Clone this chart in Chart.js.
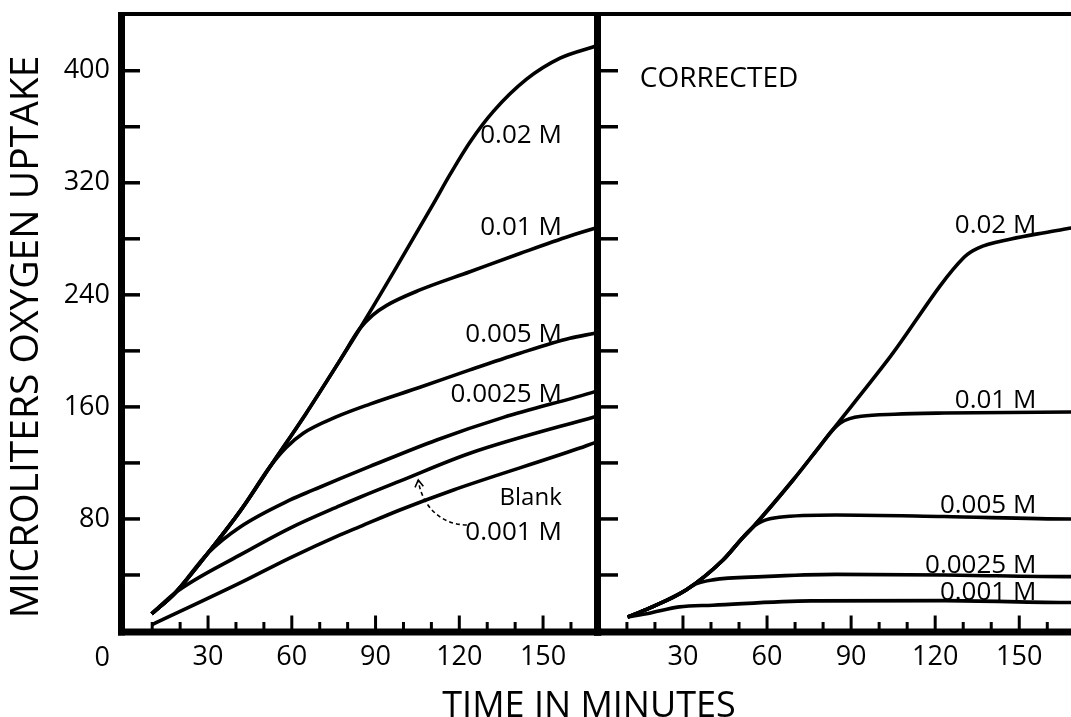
<!DOCTYPE html>
<html>
<head>
<meta charset="utf-8">
<script src="https://cdn.jsdelivr.net/npm/chart.js@4.4.1/dist/chart.umd.min.js"></script>
<style>
  html, body { margin: 0; padding: 0; background: #fff; overflow: hidden; width: 1071px; height: 717px; }
  canvas { position: absolute; left: 0; top: 0; }
</style>
</head>
<body>
<canvas id="leftPanel" width="1071" height="717"></canvas>
<canvas id="rightPanel" width="1100" height="717"></canvas>
<script>
// ---------------- data ----------------
const xTickValues = [10, 20, 30, 40, 50, 60, 70, 80, 90, 100, 110, 120, 130, 140, 150, 160];
const xLabelValues = [30, 60, 90, 120, 150];
const yTickValues = [40, 80, 120, 160, 200, 240, 280, 320, 360, 400];
const yLabelValues = [80, 160, 240, 320, 400];
const seriesNames = ['0.02 M', '0.01 M', '0.005 M', '0.0025 M', '0.001 M', 'Blank'];

// Left panel (observed), time in minutes / microliters O2
const leftTime02   = [9.8, 18.2, 30, 42, 52.2, 65, 77.3, 84.4, 96.4, 110.7, 116.7, 123.8, 132.2, 144.1, 156.1, 167.9, 169.5];
const leftUptake02 = [12.2, 27.2, 55.7, 87, 117.3, 155, 193.4, 216, 256, 305, 326, 349, 371, 394, 409, 417, 418];

const leftTime01   = [9.8, 18.2, 30, 42, 52.2, 65, 77.3, 84.4, 89, 94, 105.9, 123.8, 141.7, 159.6, 168.6, 169.5];
const leftUptake01 = [12.2, 27.2, 55.7, 87, 117.3, 155, 193.4, 216, 225.5, 232.5, 243.5, 256.5, 269.5, 282, 287.5, 288];

const leftTime005   = [9.8, 18.2, 30, 42, 52.2, 58, 64.1, 76.1, 88, 105.9, 123.8, 141.7, 159.6, 168.6, 169.5];
const leftUptake005 = [12.2, 27.2, 55.7, 87, 117.3, 131, 141.2, 153, 162, 174, 186.4, 198.3, 209, 212.6, 213];

const leftTime0025   = [9.8, 18.2, 30, 41.5, 59.4, 67.7, 77.3, 88, 111.9, 135.8, 168.6, 169.5];
const leftUptake0025 = [12.2, 27.2, 55.7, 74.3, 93.6, 100.7, 108.8, 117.5, 136.4, 152.5, 170.9, 171.5];

const leftTime001   = [9.8, 18.2, 41.5, 59.4, 77.3, 84.4, 98.7, 123.8, 168.6, 169.5];
const leftUptake001 = [12.2, 27.2, 54.3, 73.5, 89.5, 95.5, 107, 126.9, 153, 153.5];

const leftTimeBlank   = [9.8, 41.5, 59.4, 77.3, 84.4, 98.7, 117.9, 163.2, 168.6, 169.5];
const leftUptakeBlank = [4.4, 34.3, 52.2, 68.6, 74.5, 86.4, 100.7, 130.6, 134.5, 135];

// Right panel (corrected)
const rightTime02   = [10.25, 18, 31.1, 44.3, 51.3, 55, 69.3, 79, 82.9, 103.1, 130.4, 135.3, 147.1, 159, 168.6, 170];
const rightUptake02 = [10, 16.3, 29.3, 50.7, 66.6, 74.3, 107.8, 132.4, 142.3, 193.5, 267, 273.4, 279.8, 284.4, 287.7, 288.2];

const rightTime01   = [10.25, 18, 31.1, 44.3, 51.3, 55, 69.3, 79, 82.9, 86.4, 89.5, 93.6, 105.5, 123.2, 168.6, 170];
const rightUptake01 = [10, 16.3, 29.3, 50.7, 66.6, 74.3, 107.8, 132.4, 142.3, 148.8, 151.6, 153.3, 154.8, 155.6, 156.3, 156.3];

const rightTime005   = [10.25, 18, 31.1, 44.3, 51.3, 55.5, 58.4, 64.3, 84.6, 123.2, 168.6, 170];
const rightUptake005 = [10, 16.3, 29.3, 50.7, 66.6, 75, 78.5, 81.2, 82.8, 81.7, 80, 80];

const rightTime0025   = [10.25, 18, 31.1, 34.6, 40.6, 58.5, 84.6, 123.3, 168.6, 170];
const rightUptake0025 = [10, 16.3, 29.3, 33.6, 36.5, 38.8, 40.4, 40, 38.8, 38.8];

const rightTime001   = [10.25, 18, 28.7, 40.6, 75.7, 123.3, 168.6, 170];
const rightUptake001 = [10, 12.7, 17.2, 18.4, 21.5, 21.7, 20.3, 20.3];

// ---------------- annotations (data coordinates) ----------------
const leftLabels = [
  { text: '0.02 M',   t: 156.7, v: 348.4, size: 26 },
  { text: '0.01 M',   t: 156.7, v: 282.7, size: 26 },
  { text: '0.005 M',  t: 156.7, v: 206.6, size: 26 },
  { text: '0.0025 M', t: 156.7, v: 163.7, size: 26 },
  { text: 'Blank',    t: 156.7, v: 90,    size: 24 },
  { text: '0.001 M',  t: 156.7, v: 65,    size: 26 }
];
const rightLabels = [
  { text: '0.02 M',   t: 156.1, v: 284.2, size: 26 },
  { text: '0.01 M',   t: 156.1, v: 159.3, size: 26 },
  { text: '0.005 M',  t: 156.1, v: 84.3,  size: 26 },
  { text: '0.0025 M', t: 156.1, v: 41.5,  size: 26 },
  { text: '0.001 M',  t: 156.1, v: 22.2,  size: 26 }
];
const cornerNote = { text: 'CORRECTED', t: 14.6, v: 388.4, size: 28 };
const arrowPath = { start: [122.7, 75.7], c1: [113, 76], c2: [106.5, 90], end: [105.3, 107.8] };

const FONT = "'Open Sans', 'DejaVu Sans', sans-serif";
const INK = '#000';

function pairs(ts, vs) { return ts.map((t, i) => ({ x: t, y: vs[i] })); }
function lineSet(label, ts, vs) {
  return {
    label, data: pairs(ts, vs), borderColor: INK, borderWidth: 3.6,
    pointRadius: 0, fill: false, cubicInterpolationMode: 'monotone', tension: 0.4
  };
}

const decor = {
  id: 'decor',
  afterDraw(chart, args, opts) {
    const ctx = chart.ctx, a = chart.chartArea;
    const xs = chart.scales.x, ys = chart.scales.y;
    const axisY = a.bottom + 1;
    ctx.save();
    ctx.strokeStyle = INK; ctx.fillStyle = INK; ctx.lineCap = 'butt';
    // top line
    ctx.lineWidth = 4;
    ctx.beginPath(); ctx.moveTo(a.left - 3.5, a.top); ctx.lineTo(a.right + 4, a.top); ctx.stroke();
    // bottom axis
    ctx.lineWidth = 7;
    ctx.beginPath(); ctx.moveTo(a.left - 3.5, axisY); ctx.lineTo(a.right + 4, axisY); ctx.stroke();
    // left axis line (left axis / divider)
    ctx.beginPath(); ctx.moveTo(a.left, a.top - 2); ctx.lineTo(a.left, axisY + 3.5); ctx.stroke();
    if (opts.side === 'left') {
      ctx.beginPath(); ctx.moveTo(a.right, a.top - 2); ctx.lineTo(a.right, axisY + 3.5); ctx.stroke();
    }
    // inward ticks on y
    ctx.lineWidth = 3.5;
    const yLen = opts.side === 'left' ? 18.5 : 20.5;
    yTickValues.forEach(v => {
      const y = ys.getPixelForValue(v);
      ctx.beginPath(); ctx.moveTo(a.left, y); ctx.lineTo(a.left + yLen, y); ctx.stroke();
    });
    // inward ticks on x
    ctx.lineWidth = 3;
    xTickValues.forEach(v => {
      const x = xs.getPixelForValue(v);
      if (x > a.right) return;
      const len = (v % 30 === 0) ? 16.5 : 10;
      ctx.beginPath(); ctx.moveTo(x, axisY); ctx.lineTo(x, axisY - len); ctx.stroke();
    });
    // curve labels
    ctx.textAlign = 'right'; ctx.textBaseline = 'alphabetic';
    const labels = opts.side === 'left' ? leftLabels : rightLabels;
    labels.forEach(l => {
      ctx.font = l.size + 'px ' + FONT;
      ctx.fillText(l.text, xs.getPixelForValue(l.t), ys.getPixelForValue(l.v));
    });
    if (opts.side === 'right') {
      ctx.textAlign = 'left';
      ctx.font = cornerNote.size + 'px ' + FONT;
      ctx.fillText(cornerNote.text, xs.getPixelForValue(cornerNote.t), ys.getPixelForValue(cornerNote.v));
    }
    if (opts.side === 'left') {
      // dashed pointer for 0.001 M
      const P = p => [xs.getPixelForValue(p[0]), ys.getPixelForValue(p[1])];
      const s = P(arrowPath.start), c1 = P(arrowPath.c1), c2 = P(arrowPath.c2), e = P(arrowPath.end);
      ctx.lineWidth = 1.6; ctx.setLineDash([4, 3]);
      ctx.beginPath(); ctx.moveTo(s[0], s[1]); ctx.bezierCurveTo(c1[0], c1[1], c2[0], c2[1], e[0], e[1]); ctx.stroke();
      ctx.setLineDash([]);
      const ang = Math.atan2(e[1] - c2[1], e[0] - c2[0]);
      const hl = 8;
      ctx.beginPath();
      ctx.moveTo(e[0] - hl * Math.cos(ang - 0.55), e[1] - hl * Math.sin(ang - 0.55));
      ctx.lineTo(e[0], e[1]);
      ctx.lineTo(e[0] - hl * Math.cos(ang + 0.55), e[1] - hl * Math.sin(ang + 0.55));
      ctx.stroke();
      // origin label
      ctx.font = '27px ' + FONT; ctx.textAlign = 'center'; ctx.textBaseline = 'middle';
      ctx.fillText('0', xs.getPixelForValue(0) - 22, a.bottom + 27.5);
      // axis titles
      ctx.font = '39px ' + FONT;
      ctx.save();
      ctx.translate(27, 337); ctx.rotate(-Math.PI / 2);
      ctx.textAlign = 'center'; ctx.textBaseline = 'middle';
      ctx.fillText('MICROLITERS OXYGEN UPTAKE', 0, 0);
      ctx.restore();
      ctx.font = '36px ' + FONT; ctx.textAlign = 'center'; ctx.textBaseline = 'alphabetic';
      ctx.fillText('TIME IN MINUTES', 589, 716.5);
    }
    ctx.restore();
  }
};

function buildOptions(side) {
  const isLeft = side === 'left';
  return {
    responsive: false, animation: false, devicePixelRatio: 1,
    layout: { padding: isLeft ? { left: 0, top: 14, right: 1071 - 597.5, bottom: 0 }
                              : { left: 0, top: 14, right: 1100 - 1075.3, bottom: 0 } },
    plugins: { legend: { display: false }, tooltip: { enabled: false }, decor: { side } },
    scales: {
      x: {
        type: 'linear', min: isLeft ? -1 : -0.5, max: isLeft ? 169.5 : 170,
        grid: { display: false, drawTicks: false }, border: { display: false },
        afterBuildTicks: s => { s.ticks = xTickValues.map(v => ({ value: v })); },
        afterFit: s => { s.height = 86; s.paddingLeft = 0; s.paddingRight = 0; },
        ticks: {
          autoSkip: false, maxRotation: 0, padding: 10, color: INK,
          font: { family: FONT, size: 27 },
          callback: v => xLabelValues.includes(v) ? String(v) : ''
        }
      },
      y: {
        type: 'linear', min: 0, max: 440.5,
        grid: { display: false, drawTicks: false }, border: { display: false },
        afterBuildTicks: s => { s.ticks = yTickValues.map(v => ({ value: v })); },
        afterFit: s => { s.width = isLeft ? 121.5 : 597.5; s.paddingTop = 0; s.paddingBottom = 0; },
        ticks: {
          display: isLeft, autoSkip: false, padding: 11.5, color: INK,
          font: { family: FONT, size: 27 },
          callback: v => yLabelValues.includes(v) ? String(v) : ''
        }
      }
    }
  };
}

new Chart(document.getElementById('leftPanel'), {
  type: 'line',
  data: {
    datasets: [
      lineSet(seriesNames[0], leftTime02, leftUptake02),
      lineSet(seriesNames[1], leftTime01, leftUptake01),
      lineSet(seriesNames[2], leftTime005, leftUptake005),
      lineSet(seriesNames[3], leftTime0025, leftUptake0025),
      lineSet(seriesNames[4], leftTime001, leftUptake001),
      lineSet(seriesNames[5], leftTimeBlank, leftUptakeBlank)
    ]
  },
  options: buildOptions('left'),
  plugins: [decor]
});

new Chart(document.getElementById('rightPanel'), {
  type: 'line',
  data: {
    datasets: [
      lineSet(seriesNames[0], rightTime02, rightUptake02),
      lineSet(seriesNames[1], rightTime01, rightUptake01),
      lineSet(seriesNames[2], rightTime005, rightUptake005),
      lineSet(seriesNames[3], rightTime0025, rightUptake0025),
      lineSet(seriesNames[4], rightTime001, rightUptake001)
    ]
  },
  options: buildOptions('right'),
  plugins: [decor]
});
</script>
</body>
</html>
